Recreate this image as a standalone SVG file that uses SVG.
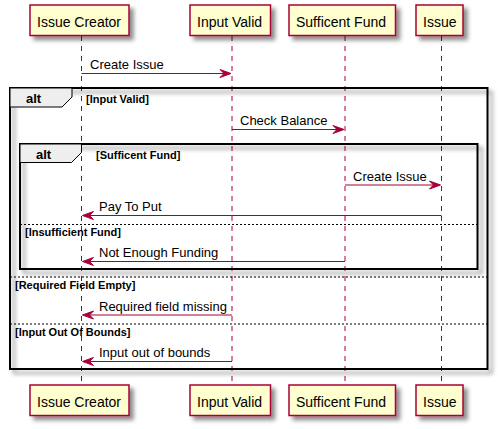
<svg xmlns="http://www.w3.org/2000/svg" width="500" height="429" viewBox="0 0 500 429">
<defs>
<filter id="sh" x="-20%" y="-20%" width="150%" height="160%">
<feGaussianBlur in="SourceAlpha" stdDeviation="2" result="b"/>
<feColorMatrix in="b" type="matrix" values="0 0 0 0 0  0 0 0 0 0  0 0 0 0 0  0 0 0 0.45 0" result="c"/>
<feOffset in="c" dx="4" dy="4" result="o"/>
<feMerge><feMergeNode in="o"/><feMergeNode in="SourceGraphic"/></feMerge>
</filter>
<filter id="fsh" x="-5%" y="-5%" width="110%" height="115%">
<feGaussianBlur in="SourceAlpha" stdDeviation="2" result="b"/>
<feColorMatrix in="b" type="matrix" values="0 0 0 0 0  0 0 0 0 0  0 0 0 0 0  0 0 0 0.45 0" result="c"/>
<feOffset in="c" dx="4" dy="4" result="o"/>
<feMerge><feMergeNode in="o"/><feMergeNode in="SourceGraphic"/></feMerge>
</filter>
</defs>
<style>
.box{fill:#FEFECE;stroke:#A80036;stroke-width:1.5}
.pt{font-family:"Liberation Sans",Arial,sans-serif;font-size:14px;fill:#000}
.life{stroke:#A80036;stroke-width:1;stroke-dasharray:5,5}
.msg{stroke:#A80036;stroke-width:1;fill:none}
.head{fill:#A80036;stroke:#A80036;stroke-width:1}
.mt{font-family:"Liberation Sans",Arial,sans-serif;font-size:13px;fill:#000}
.frame{fill:none;stroke:#000;stroke-width:2}
.tab{fill:#EEEEEE;stroke:#000;stroke-width:1}
.alt{font-family:"Liberation Sans",Arial,sans-serif;font-size:13px;font-weight:bold;fill:#000}
.g{font-family:"Liberation Sans",Arial,sans-serif;font-size:11px;font-weight:bold;fill:#000}
.sep{stroke:#000;stroke-width:1;stroke-dasharray:2,2}
</style>
<rect width="500" height="429" fill="#FFFFFF"/>
<g id="lifelines">
<line class="life" x1="81.5" y1="36" x2="81.5" y2="385"/>
<line class="life" x1="232" y1="36" x2="232" y2="385"/>
<line class="life" x1="345" y1="36" x2="345" y2="385"/>
<line class="life" x1="441.5" y1="36" x2="441.5" y2="385"/>
</g>
<g id="frame-outer">
<rect class="frame" x="10" y="88" width="477.5" height="281" filter="url(#fsh)"/>
<path class="tab" d="M10,88 H72 V97 L62,107 H10 Z"/>
<text class="alt" x="26" y="102.5">alt</text>
<text class="g" x="86" y="103">[Input Valid]</text>
<line class="sep" x1="10" y1="277" x2="487.5" y2="277"/>
<text class="g" x="15" y="288.5">[Required Field Empty]</text>
<line class="sep" x1="10" y1="324" x2="487.5" y2="324"/>
<text class="g" x="15" y="335.5">[Input Out Of Bounds]</text>
</g>
<g id="frame-inner">
<rect class="frame" x="20" y="144" width="457.5" height="125" filter="url(#fsh)"/>
<path class="tab" d="M20,144 H81.5 V152.5 L71.5,162.5 H20 Z"/>
<text class="alt" x="36" y="158.5">alt</text>
<text class="g" x="96" y="158.5">[Sufficent Fund]</text>
<line class="sep" x1="20" y1="224.5" x2="477.5" y2="224.5"/>
<text class="g" x="25" y="235.5">[Insufficient Fund]</text>
</g>
<g id="connectors">
<line class="msg" x1="81.5" y1="73.5" x2="230" y2="73.5"/>
<polygon class="head" points="220,69.5 231,73.5 220,77.5 224,73.5"/>
<text class="mt" x="90" y="69">Create Issue</text>
<line class="msg" x1="232" y1="129.5" x2="343" y2="129.5"/>
<polygon class="head" points="333,125.5 344,129.5 333,133.5 337,129.5"/>
<text class="mt" x="240" y="125">Check Balance</text>
<line class="msg" x1="345" y1="185" x2="439.5" y2="185"/>
<polygon class="head" points="429.5,181 440.5,185 429.5,189 433.5,185"/>
<text class="mt" x="353" y="180.5">Create Issue</text>
<line class="msg" x1="83.5" y1="215.5" x2="441.5" y2="215.5"/>
<polygon class="head" points="93.5,211.5 82.5,215.5 93.5,219.5 89.5,215.5"/>
<text class="mt" x="99" y="211">Pay To Put</text>
<line class="msg" x1="83.5" y1="261.5" x2="345" y2="261.5"/>
<polygon class="head" points="93.5,257.5 82.5,261.5 93.5,265.5 89.5,261.5"/>
<text class="mt" x="99" y="257">Not Enough Funding</text>
<line class="msg" x1="83.5" y1="315" x2="232" y2="315"/>
<polygon class="head" points="93.5,311 82.5,315 93.5,319 89.5,315"/>
<text class="mt" x="99" y="310.5">Required field missing</text>
<line class="msg" x1="83.5" y1="361.5" x2="232" y2="361.5"/>
<polygon class="head" points="93.5,357.5 82.5,361.5 93.5,365.5 89.5,361.5"/>
<text class="mt" x="99" y="357">Input out of bounds</text>
</g>
<g id="p-issue-creator">
<rect class="box" x="30" y="5" width="99" height="30.5" filter="url(#sh)"/>
<text class="pt" x="37" y="27">Issue Creator</text>
<rect class="box" x="30" y="385" width="99" height="30.5" filter="url(#sh)"/>
<text class="pt" x="37" y="407">Issue Creator</text>
</g>
<g id="p-input-valid">
<rect class="box" x="190" y="5" width="80.5" height="30.5" filter="url(#sh)"/>
<text class="pt" x="197" y="27">Input Valid</text>
<rect class="box" x="190" y="385" width="80.5" height="30.5" filter="url(#sh)"/>
<text class="pt" x="197" y="407">Input Valid</text>
</g>
<g id="p-sufficent-fund">
<rect class="box" x="289" y="5" width="106.5" height="30.5" filter="url(#sh)"/>
<text class="pt" x="296" y="27">Sufficent Fund</text>
<rect class="box" x="289" y="385" width="106.5" height="30.5" filter="url(#sh)"/>
<text class="pt" x="296" y="407">Sufficent Fund</text>
</g>
<g id="p-issue">
<rect class="box" x="416" y="5" width="47" height="30.5" filter="url(#sh)"/>
<text class="pt" x="423" y="27">Issue</text>
<rect class="box" x="416" y="385" width="47" height="30.5" filter="url(#sh)"/>
<text class="pt" x="423" y="407">Issue</text>
</g>
</svg>
